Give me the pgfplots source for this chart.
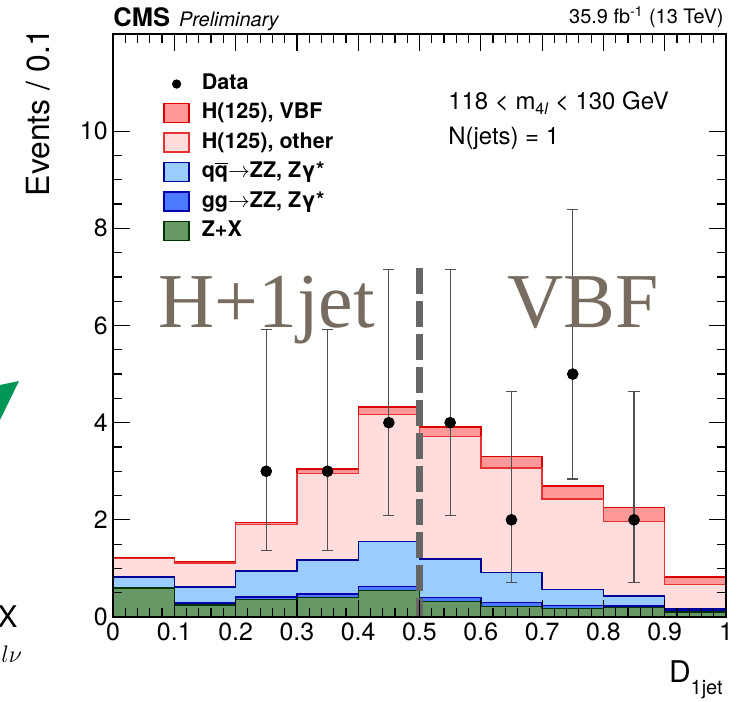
\documentclass[border=0pt]{standalone}
\usepackage{fontspec}
\setmainfont{TeX Gyre Heros}
\newfontfamily\serifbig{Liberation Serif}
\usepackage{pgfplots}
\pgfplotsset{compat=1.18}

\definecolor{vbffill}{RGB}{255,153,153}
\definecolor{vbfline}{RGB}{220,0,0}
\definecolor{othfill}{RGB}{255,221,221}
\definecolor{othline}{RGB}{230,50,50}
\definecolor{qqfill}{RGB}{153,204,255}
\definecolor{qqline}{RGB}{0,0,153}
\definecolor{ggfill}{RGB}{77,121,255}
\definecolor{ggline}{RGB}{0,0,170}
\definecolor{zxfill}{RGB}{102,153,102}
\definecolor{zxline}{RGB}{0,51,0}
\definecolor{regtext}{RGB}{120,108,96}
\definecolor{errgray}{RGB}{80,80,80}
\definecolor{dashgray}{RGB}{102,102,102}
\definecolor{arrowgreen}{RGB}{0,150,85}

\pgfplotsset{
  boxleg/.style={legend image code/.code={\draw[##1] (0bp,-4.75bp) rectangle (12.5bp,4.75bp);}},
  dotleg/.style={legend image code/.code={\draw[mark repeat=2,mark phase=2,##1] plot coordinates {(0bp,0bp) (6.25bp,0bp) (12.5bp,0bp)};}},
}

\begin{document}
\begin{tikzpicture}
\begin{axis}[
  scale only axis, width=306.5bp, height=291.5bp,
  xmin=0, xmax=1, ymin=0, ymax=12,
  axis on top,
  xtick={0,0.1,0.2,0.3,0.4,0.5,0.6,0.7,0.8,0.9,1},
  xticklabels={0,0.1,0.2,0.3,0.4,0.5,0.6,0.7,0.8,0.9,1},
  ytick={0,2,4,6,8,10},
  yticklabels={0,2,4,6,8,10},
  minor x tick num=4, minor y tick num=3,
  tick align=inside,
  major tick length=8.5bp, minor tick length=4.5bp,
  every tick/.style={black, line width=0.6bp},
  axis line style={line width=1bp},
  /pgf/number format/assume math mode=true,
  ticklabel style={font=\fontsize{12.5}{15}\selectfont, inner sep=2.5bp},
  ylabel={Events / 0.1},
  ylabel style={font=\fontsize{16}{19}\selectfont, at={(axis description cs:-0.1028,1.0103)}, anchor=base east, inner sep=0pt},
  xlabel={D\raisebox{-6bp}{\fontsize{10}{12}\selectfont 1jet}},
  xlabel style={font=\fontsize{15}{18}\selectfont, at={(axis description cs:0.9951,-0.1115)}, anchor=base east, inner sep=0pt},
  legend style={draw=none, fill=none, at={(axis description cs:0.0816,0.932)}, anchor=north west,
    font=\bfseries\fontsize{10.8}{13}\selectfont, row sep=4.5bp, column sep=6bp, inner sep=0pt,
    nodes={inner sep=0pt, text height=7.8bp, text depth=2.2bp}},
  legend cell align=left,
]
\addlegendimage{dotleg, only marks, mark=*, mark size=2.1bp, black}
\addlegendentry{Data}

% H(125) VBF (total stack)
\addplot[boxleg, const plot, fill=vbffill, draw=vbfline, line width=0.7bp] coordinates {
 (0,1.23) (0.1,1.13) (0.2,1.94) (0.3,3.05) (0.4,4.32) (0.5,3.91) (0.6,3.30) (0.7,2.70) (0.8,2.26) (0.9,0.82) (1,0.82)} \closedcycle;
\addlegendentry{H(125), VBF}
% H(125) other
\addplot[boxleg, const plot, fill=othfill, draw=othline, line width=0.7bp] coordinates {
 (0,1.21) (0.1,1.11) (0.2,1.91) (0.3,2.95) (0.4,4.17) (0.5,3.72) (0.6,3.07) (0.7,2.43) (0.8,1.96) (0.9,0.67) (1,0.67)} \closedcycle;
\addlegendentry{H(125), other}
% qq -> ZZ
\addplot[boxleg, const plot, fill=qqfill, draw=qqline, line width=0.7bp] coordinates {
 (0,0.82) (0.1,0.62) (0.2,0.95) (0.3,1.17) (0.4,1.55) (0.5,1.19) (0.6,0.91) (0.7,0.56) (0.8,0.43) (0.9,0.18) (1,0.18)} \closedcycle;
\addlegendentry{q$\overline{\mbox{q}}$$\rightarrow$ZZ, Zγ*}
% gg -> ZZ
\addplot[boxleg, const plot, fill=ggfill, draw=ggline, line width=0.7bp] coordinates {
 (0,0.61) (0.1,0.29) (0.2,0.41) (0.3,0.47) (0.4,0.63) (0.5,0.40) (0.6,0.30) (0.7,0.24) (0.8,0.23) (0.9,0.14) (1,0.14)} \closedcycle;
\addlegendentry{gg$\rightarrow$ZZ, Zγ*}
% Z+X
\addplot[boxleg, const plot, fill=zxfill, draw=zxline, line width=0.7bp] coordinates {
 (0,0.60) (0.1,0.25) (0.2,0.36) (0.3,0.40) (0.4,0.54) (0.5,0.32) (0.6,0.22) (0.7,0.17) (0.8,0.19) (0.9,0.10) (1,0.10)} \closedcycle;
\addlegendentry{Z+X}

% category separator
\addplot[forget plot, dashgray, line width=3.5bp, dash pattern=on 13bp off 3.5bp] coordinates {(0.5,7.18) (0.5,0)};

% data
\addplot[forget plot, only marks, mark=*, mark size=2.7bp, black,
  error bars/.cd, y dir=both, y explicit,
  error bar style={line width=0.6bp, errgray},
  error mark options={line width=0.6bp, errgray, mark size=2.8bp, rotate=90}]
 coordinates {
 (0.25,3) += (0,2.92) -= (0,1.63)
 (0.35,3) += (0,2.92) -= (0,1.63)
 (0.45,4) += (0,3.16) -= (0,1.91)
 (0.55,4) += (0,3.16) -= (0,1.91)
 (0.65,2) += (0,2.64) -= (0,1.29)
 (0.75,5) += (0,3.38) -= (0,2.16)
 (0.85,2) += (0,2.64) -= (0,1.29)
 };
\end{axis}

% texts (axis box south west is at (0,0); 1 px = 0.5bp)
\node[anchor=base west, inner sep=0pt] at (0bp,295.15bp) {{\bfseries\fontsize{12.8}{15}\selectfont CMS}\hspace{4.5bp}{\itshape\fontsize{10}{12}\selectfont Preliminary}};
\node[anchor=base east, inner sep=0pt] at (305.5bp,296.5bp) {\fontsize{10}{12}\selectfont 35.9 fb\textsuperscript{-1} (13 TeV)};
\node[anchor=base west, inner sep=0pt] at (167.5bp,253.5bp) {\fontsize{12}{14}\selectfont 118 < m\raisebox{-2.5bp}{\fontsize{8}{9}\selectfont 4\textit{l}} < 130 GeV};
\node[anchor=base west, inner sep=0pt] at (167.5bp,236bp) {\fontsize{12}{14}\selectfont N(jets) = 1};
\node[anchor=base west, inner sep=0pt, text=regtext] at (22.5bp,144.5bp) {\serifbig\fontsize{39}{44}\selectfont H+1jet};
\node[anchor=base west, inner sep=0pt, text=regtext] at (197bp,144.5bp) {\serifbig\fontsize{39}{44}\selectfont VBF};

% cropped remains of a neighbouring figure
\fill[arrowgreen] (-56.5bp,116bp) -- (-47bp,118bp) -- (-56.5bp,98.5bp) -- cycle;
\node[anchor=base east, inner sep=0pt] at (-47.5bp,-5bp) {\fontsize{15}{18}\selectfont X};
\node[anchor=base west, inner sep=0pt] at (-56bp,-22.5bp) {\fontsize{13}{15}\selectfont $l\nu$};

\pgfresetboundingbox
\path[use as bounding box] (-56.5bp,-42.5bp) rectangle (316bp,308.5bp);
\end{tikzpicture}
\end{document}
